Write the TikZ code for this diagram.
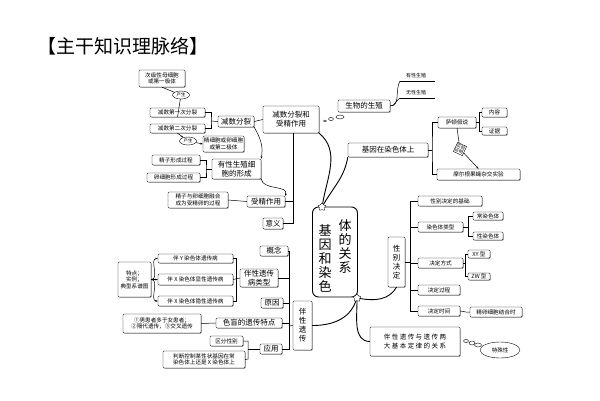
\documentclass[tikz,border=0pt]{standalone}
\usepackage{fontspec}
\setmainfont{Noto Sans CJK SC}
\usetikzlibrary{shadows,arrows.meta,shapes.geometric,shapes.symbols}
\tikzset{
 bx/.style={draw,rounded corners=1.2pt,inner sep=0.5pt,align=center,fill=white,
   drop shadow={shadow xshift=0.8pt,shadow yshift=-0.8pt,fill=gray!70,opacity=1},
   font=\fontsize{5.6}{6.6}\selectfont},
 bigb/.style={bx,font=\fontsize{7.5}{9}\selectfont},
 ov/.style={draw,ellipse,inner sep=0.3pt,fill=white,font=\fontsize{4.5}{5}\selectfont},
 ln/.style={line width=0.5pt},
 cv/.style={line width=0.9pt},
 ar/.style={ln,-{Stealth[length=2.5pt]}},
}
\newcommand\bx[7][bx]{\node[#1,minimum width={(#4-#2)*1pt},minimum height={(#5-#3)*1pt}] (#7) at ({(#2+#4)/2},{(#3+#5)/2}) {#6};}
\begin{document}
\begin{tikzpicture}[x=1pt,y=-1pt]
\useasboundingbox[fill=white] (0,0) rectangle (600,400);
\node[anchor=west,font=\fontsize{19}{21}\selectfont] (title) at (34,46) {【主干知识理脉络】};
% left top
\bx{139}{70}{185}{87}{次级性母细胞\\或第一极体}{k1}
\node[ov,minimum width=17pt,minimum height=8pt] (o1) at (181,95) {产生};
\bx{150}{108}{205}{117}{减数第一次分裂}{m1}
\bx{150}{124}{205}{133}{减数第二次分裂}{m2}
\node[ov,minimum width=17pt,minimum height=8pt] (o2) at (188,141) {产生};
\bx{203}{136}{244}{152}{精细胞或卵细胞\\或第二极体}{k2}
\bx[bigb]{218}{116}{254}{127}{减数分裂}{js}
\bx[bigb]{263}{106}{319}{133}{减数分裂和\\受精作用}{jsz}
\bx{152}{155}{200}{165}{精子形成过程}{jz}
\bx{147}{173}{200}{182}{卵细胞形成过程}{lx}
\bx[bigb]{212}{159}{261}{179}{有性生殖细\\胞的形成}{yx}
\bx{168}{192}{228}{208}{精子与卵细胞融合\\成为受精卵的过程}{jr}
\bx[bigb]{247}{196}{285}{207}{受精作用}{szy}
\bx[bigb]{263}{218}{283}{229}{意义}{yy}
\draw[ln] (m1.east) -| (211,121) |- (m2.east); \draw[ln] (211,121) -- (js.west);
\draw[ln] (m1.south) -- (o1) -- (k1.south);
\draw[ar] (m2.south) -- (o2); \draw[ar] (o2) -- (k2.west);
\draw[ln] (jz.east) -| (206,169) |- (lx.east); \draw[ln] (206,169)-- (yx.west);
\draw[ln] (jsz.west) -- (js.east);
\draw[ar] (js.south east) to[out=-60,in=80] (yx.north east);
\draw[ar] (yx.south east) to[out=-80,in=70] (szy.north east);
\draw[ln] (szy.west) -- (jr.east);
\coordinate (v1) at (293,133);
\draw[ln] (v1) |- (yy.east); \draw[ln] (v1 |- szy.east) -- (szy.east);
% main
\node[draw,line width=0.9pt,rounded corners=6pt,minimum width=45pt,minimum height=90pt] (main) at (335,252) {};
\node[align=center,font=\fontsize{13}{14}\selectfont] (mt1) at (325,258) {基\\因\\和\\染\\色};
\node[align=center,font=\fontsize{13}{14}\selectfont] (mt2) at (345,247) {体\\的\\关\\系};
\node[star,star points=5,draw,fill=white,inner sep=0pt,minimum size=8pt] (s1) at (322,207) {};
\node[star,star points=5,draw,fill=white,inner sep=0pt,minimum size=8pt] (s2) at (357,298) {};
% top right
\bx[bigb]{338}{100}{390}{112}{生物的生殖}{sw}
\node[ov,minimum width=3pt,minimum height=2pt] (b1) at (325,121) {};
\node[ov,minimum width=5pt,minimum height=3pt] (b2) at (331,119) {};
\node[ov,minimum width=8pt,minimum height=4pt] (b3) at (340,117) {};
\node[font=\fontsize{5}{6}\selectfont,anchor=south] (yxs) at (416,81) {有性生殖};
\node[font=\fontsize{5}{6}\selectfont,anchor=south] (wxs) at (416,98) {无性生殖};
\coordinate (u1) at (400,81); \coordinate (u2) at (400,98);
\draw[ln] (u1) -- (435,81); \draw[ln] (u2) -- (435,98);
\draw[ln] (sw.east) to[out=0,in=-120] (u1); \draw[ln] (sw.east) to[out=0,in=-150] (u2);
\bx[bigb]{348}{143}{428}{157}{基因在染色体上}{jy}
\bx{438}{117}{476}{128}{萨顿假说}{sd}
\bx{482}{108}{507}{117}{内容}{nr}
\bx{482}{127}{507}{135}{证据}{zj}
\bx{437}{169}{520}{180}{摩尔根果蝇杂交实验}{me}
\draw[ln] (sd.east) -| (479,122); \draw[ln] (479,112) |- (nr.west); \draw[ln] (479,112) |- (zj.west);
\draw[ln] (jy.east) -- (432,150); \draw[ln] (sd.west) -| (432,150) |- (me.west);
\node[draw,fill=white,rotate=-25,inner sep=0.6pt,align=center,font=\fontsize{4.3}{4.8}\selectfont] (sy) at (460,149) {实验\\证明};
\draw[ln] (sd.south) -- (sy);
\draw[ar] (sy) -- (me.north);
\draw[cv] (jsz.south east) to[out=-40,in=80] (s1);
\draw[cv] (s1) to[out=60,in=-100] (jy.south west);
% right lower
\bx[bigb]{388}{237}{405}{287}{性\\别\\决\\定}{xb}
\bx{418}{196}{482}{206}{性别决定的基础}{c1}
\bx{418}{222}{463}{232}{染色体类型}{c2}
\bx{473}{212}{503}{220}{常染色体}{c21}
\bx{473}{232}{503}{240}{性染色体}{c22}
\bx{418}{258}{463}{268}{决定方式}{c3}
\bx{468}{250}{490}{258}{XY 型}{c31}
\bx{468}{273}{490}{280}{ZW 型}{c32}
\bx{418}{285}{460}{295}{决定过程}{c4}
\bx{418}{306}{460}{316}{决定时间}{c5}
\bx{470}{307}{522}{317}{精卵细胞结合时}{c51}
\coordinate (v2) at (410,201);
\draw[ln] (xb.east) -- (410,262);
\draw[ln] (c1.west) -| (410,311) -- (c5.west);
\foreach \c in {c2,c3,c4} \draw[ln] (v2 |- \c.west) -- (\c.west);
\draw[ln] (c2.east) -- (468,227); \draw[ln] (468,216) |- (c21.west); \draw[ln] (468,216) |- (c22.west);
\draw[ln] (c3.east) -- (465,263); \draw[ln] (465,254) |- (c31.west); \draw[ln] (465,254) |- (c32.west);
\draw[ln] (c5.east) -- (466,312) -- (c51.west);
\bx[bx,font=\fontsize{6.5}{9}\selectfont]{370}{327}{460}{356}{伴 性 遗 传 与 遗 传 两\\大 基 本 定 律 的 关 系}{bx2}
\node[ov,minimum width=5pt,minimum height=3pt] (d1) at (466,341) {};
\node[ov,minimum width=6pt,minimum height=4pt] (d2) at (472,343) {};
\node[ov,minimum width=7pt,minimum height=4pt] (d3) at (478,345) {};
\node[ov,font=\fontsize{5.5}{6}\selectfont,minimum width=40pt,minimum height=16pt] (ts) at (500,350) {特殊性};
\draw[cv] (s2) to[out=-10,in=-120] (xb.south);
\draw[cv] (s2) to[out=-90,in=180] (bx2.west);
% left lower
\bx[bigb]{293}{301}{312}{350}{伴\\性\\遗\\传}{bx1}
\draw[cv] (s2) to[out=-110,in=0] (bx1.east);
\bx[bigb]{260}{246}{288}{256}{概念}{g1}
\bx[bigb]{240}{269}{278}{287}{伴性遗传\\病类型}{g2}
\bx[bigb]{261}{298}{283}{308}{原因}{g3}
\bx[bigb]{216}{318}{282}{328}{色盲的遗传特点}{g4}
\bx[bigb]{260}{344}{282}{354}{应用}{g5}
\coordinate (v3) at (289,251);
\draw[ln] (bx1.west) -- (289,326);
\draw[ln] (g1.east) -| (289,349) -- (g5.east);
\foreach \c in {g2,g3,g4} \draw[ln] (v3 |- \c.east) -- (\c.east);
\bx{158}{254}{233}{263}{伴 Y 染色体遗传病}{h1}
\bx{158}{274}{233}{285}{伴 X 染色体显性遗传病}{h2}
\bx{158}{296}{233}{306}{伴 X 染色体隐性遗传病}{h3}
\draw[ln] (h1.east) -| (236,301) -- (h3.east); \draw[ln] (h2.east) -- (g2.west);
\bx{118}{262}{151}{297}{特点；\\实例；\\典型系谱图}{td}
\draw[ar] (td.east) to[out=0,in=180] (h1.west);
\draw[ar] (td.east) -- (h2.west);
\draw[ar] (td.east) to[out=0,in=180] (h3.west);
\bx{123}{314}{201}{333}{①男患者多于女患者；\\②隔代遗传，③交叉遗传}{ts2}
\draw[ln] (g4.west) -- (ts2.east);
\bx{210}{336}{243}{346}{区分性别}{q1}
\bx{163}{351}{245}{368}{判断控制某性状基因在常\\染色体上还是 X 染色体上}{q2}
\draw[ln] (q1.east) -| (248,359) -- (q2.east); \draw[ln] (248,349) -- (g5.west);
\end{tikzpicture}
\end{document}
